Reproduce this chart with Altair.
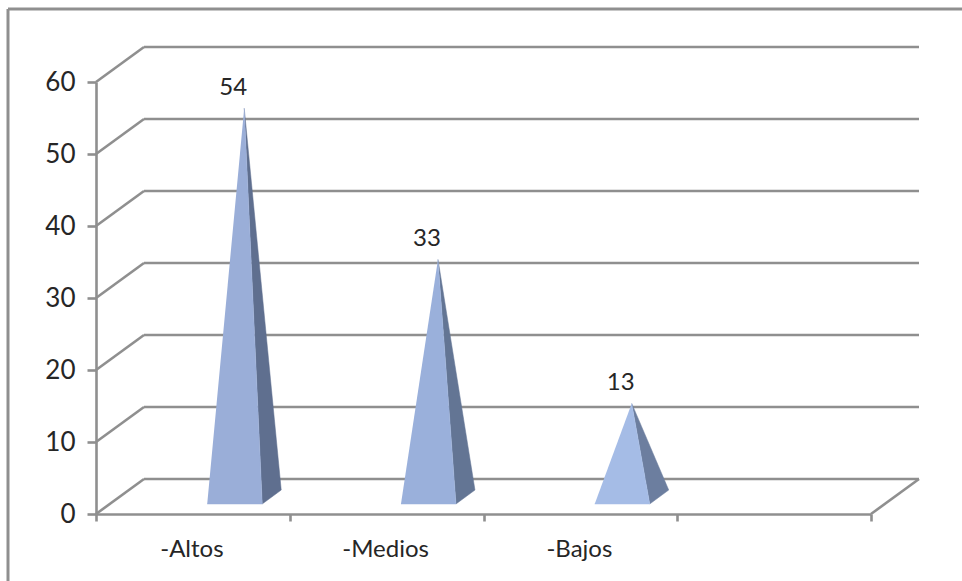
import altair as alt
import pandas as pd

# Chart content
categories = ["-Altos", "-Medios", "-Bajos"]
values = [54, 33, 13]
y_ticks = [0, 10, 20, 30, 40, 50, 60]
x_ticks = [0, 1, 2, 3, 4]
front_colors = ["#9AAED8", "#9AB0DB", "#A5BCE6"]
side_colors = ["#5F6F8F", "#637594", "#6C7E9F"]

# Plot area and scale extents, with the oblique depth of the 3D box in data units
PLOT_W, PLOT_H = 775, 432
PAD = dict(left=96, top=82, right=91, bottom=67)
X_MAX, Y_MAX = 4, 60
DEPTH_X, DEPTH_Y = 48 / (PLOT_W / X_MAX), 35 / (PLOT_H / Y_MAX)

# Pyramid footprint relative to the apex
APEX_POS = 0.765
FRONT_L, FRONT_R = -0.191, 0.093
BACK_R = 0.191
BASE_FRONT, BASE_BACK = 1.39, 3.33
BASE_MID = 2.36

AXIS_GRAY = "#8F8F8F"
LINE_W = 2.6
TEXT_COLOR = "#262626"
FONT = "Lato"
FONT_SIZE = 24

x_scale = alt.Scale(domain=[0, X_MAX], nice=False, zero=False)
y_scale = alt.Scale(domain=[0, Y_MAX], nice=False, zero=False)

# Every layer shares these position channels, so the axes merge cleanly
x_axis = alt.Axis(
    values=x_ticks, labels=False, grid=False, domainColor=AXIS_GRAY, domainWidth=LINE_W,
    tickColor=AXIS_GRAY, tickWidth=LINE_W, tickSize=7, title=None,
)
y_axis = alt.Axis(
    values=y_ticks, grid=False, domainColor=AXIS_GRAY, domainWidth=LINE_W,
    tickColor=AXIS_GRAY, tickWidth=LINE_W, tickSize=9, labelPadding=12,
    labelFont=FONT, labelFontSize=FONT_SIZE + 2, labelColor=TEXT_COLOR, title=None,
)


def xq(field="x"):
    return alt.X(f"{field}:Q", scale=x_scale, axis=x_axis)


def yq(field="y"):
    return alt.Y(f"{field}:Q", scale=y_scale, axis=y_axis)


# Back wall gridlines
wall = pd.DataFrame({
    "x": [DEPTH_X] * len(y_ticks),
    "x2": [X_MAX + DEPTH_X] * len(y_ticks),
    "y": [v + DEPTH_Y for v in y_ticks],
})
grid_back = alt.Chart(wall).mark_rule(color=AXIS_GRAY, strokeWidth=LINE_W).encode(
    x=xq(), x2="x2:Q", y=yq(),
)

# Side wall diagonals, plus the one closing the floor on the right
diag_rows = []
for v in y_ticks:
    diag_rows.append({"id": f"v{v}", "x": 0, "y": v, "o": 0})
    diag_rows.append({"id": f"v{v}", "x": DEPTH_X, "y": v + DEPTH_Y, "o": 1})
diag_rows.append({"id": "floor", "x": X_MAX, "y": 0, "o": 0})
diag_rows.append({"id": "floor", "x": X_MAX + DEPTH_X, "y": DEPTH_Y, "o": 1})
diagonals = alt.Chart(pd.DataFrame(diag_rows)).mark_line(
    color=AXIS_GRAY, strokeWidth=LINE_W
).encode(x=xq(), y=yq(), detail="id:N", order="o:Q")

# Two visible faces of each pyramid
front_rows, side_rows = [], []
for i, (cat, val) in enumerate(zip(categories, values)):
    ax = i + APEX_POS
    top = val + BASE_MID
    front_rows += [
        {"cat": cat, "o": 0, "x": ax + FRONT_L, "y": BASE_FRONT},
        {"cat": cat, "o": 1, "x": ax + FRONT_R, "y": BASE_FRONT},
        {"cat": cat, "o": 2, "x": ax, "y": top},
    ]
    side_rows += [
        {"cat": cat, "o": 0, "x": ax + FRONT_R, "y": BASE_FRONT},
        {"cat": cat, "o": 1, "x": ax + BACK_R, "y": BASE_BACK},
        {"cat": cat, "o": 2, "x": ax, "y": top},
    ]


def faces(rows, colors):
    layers = []
    for cat, color in zip(categories, colors):
        subset = pd.DataFrame([r for r in rows if r["cat"] == cat])
        layers.append(
            alt.Chart(subset).mark_line(fill=color, stroke=color, strokeWidth=0.5).encode(
                x=xq(), y=yq(), order="o:Q",
            )
        )
    return layers


# Data labels above the apexes
label_df = pd.DataFrame({
    "x": [i + APEX_POS for i in range(len(values))],
    "y": [v + BASE_MID for v in values],
    "v": values,
})
value_labels = alt.Chart(label_df).mark_text(
    font=FONT, fontSize=FONT_SIZE, color=TEXT_COLOR, dx=-11, dy=-20
).encode(x=xq(), y=yq(), text="v:Q")

# Category labels centred under their slots
cat_df = pd.DataFrame({"x": [i + 0.5 for i in range(len(categories))], "cat": categories})
cat_labels = alt.Chart(cat_df).mark_text(
    font=FONT, fontSize=FONT_SIZE, color=TEXT_COLOR, dx=-1
).encode(x=xq(), y=alt.value(PLOT_H + 36), text="cat:N")

# Outer frame, open on the right and at the bottom
frame_top = alt.Chart(pd.DataFrame({"a": [0]})).mark_rule(color=AXIS_GRAY, strokeWidth=3).encode(
    x=alt.value(-88), x2=alt.value(PLOT_W + PAD["right"]), y=alt.value(-73),
)
frame_left = alt.Chart(pd.DataFrame({"a": [0]})).mark_rule(color=AXIS_GRAY, strokeWidth=3).encode(
    x=alt.value(-88), y=alt.value(-73), y2=alt.value(PLOT_H + PAD["bottom"]),
)

chart = alt.layer(
    grid_back, diagonals,
    *faces(side_rows, side_colors), *faces(front_rows, front_colors),
    value_labels, cat_labels, frame_top, frame_left,
).properties(
    width=PLOT_W,
    height=PLOT_H,
    padding=PAD,
    autosize=alt.AutoSizeParams(type="none"),
    background="white",
).configure_view(stroke=None)

chart.save("out.html", embed_options={"renderer": "svg", "actions": False})
